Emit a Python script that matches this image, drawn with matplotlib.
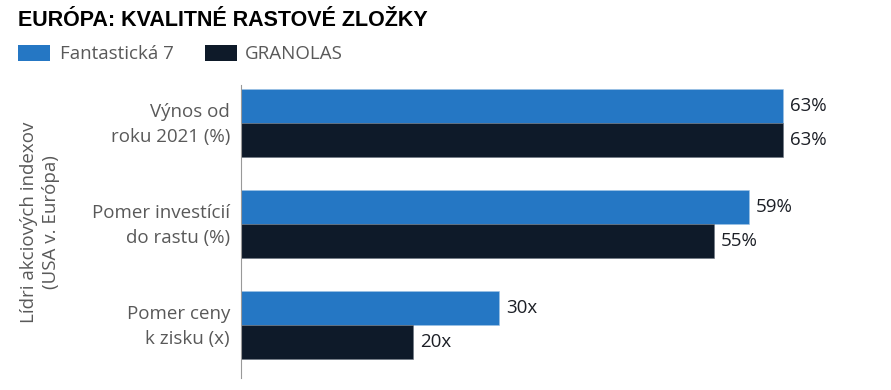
import matplotlib
matplotlib.use("Agg")
import matplotlib.pyplot as plt
import matplotlib.transforms as mtransforms
from matplotlib.patches import Rectangle
import numpy as np

categories = ["Výnos od\nroku 2021 (%)", "Pomer investícií\ndo rastu (%)", "Pomer ceny\nk zisku (x)"]
fantastic7 = [63, 59, 30]
granolas = [63, 55, 20]
units = ["%", "%", "x"]
series_names = ["Fantastická 7", "GRANOLAS"]
title = "EURÓPA: KVALITNÉ RASTOVÉ ZLOŽKY"
ylabel = "Lídri akciových indexov\n(USA v. Európa)"

BLUE = "#2577C4"
DARK = "#0E1A29"
GRAY = "#595959"
BODY_FONT = ["Open Sans", "DejaVu Sans"]
FS = 13.5

W, H = 891, 390
fig = plt.figure(figsize=(W / 100, H / 100), dpi=100)

ax_left = 241 / W
ax_right = 870 / W
ax_top = 1 - 85 / H
ax_bottom = 1 - 378 / H
ax = fig.add_axes([ax_left, ax_bottom, ax_right - ax_left, ax_top - ax_bottom])

px_per_unit = (783 - 241) / 63.0
ax.set_xlim(0, (870 - 241) / px_per_unit)

y = np.arange(len(categories))
bh = 34 / 101
ax.barh(y - bh / 2, fantastic7, height=bh, color=BLUE, edgecolor="#9ec3e6", linewidth=0.4)
ax.barh(y + bh / 2, granolas, height=bh, color=DARK, edgecolor="#6b7480", linewidth=0.4)

top_units = 38 / 101
span = 293 / 101
ax.set_ylim(-top_units + span, -top_units)

for i in range(len(categories)):
    ax.text(fantastic7[i] + 7 / px_per_unit, y[i] - bh / 2, f"{fantastic7[i]}{units[i]}",
            va="center", ha="left", fontsize=FS, color="#1c1f26", family=BODY_FONT)
    ax.text(granolas[i] + 7 / px_per_unit, y[i] + bh / 2, f"{granolas[i]}{units[i]}",
            va="center", ha="left", fontsize=FS, color="#1c1f26", family=BODY_FONT)

ax.set_yticks(y)
ax.set_yticklabels(categories, fontsize=FS, color=GRAY, family=BODY_FONT, linespacing=1.5)
ax.tick_params(axis="y", length=0, pad=8)
shift = mtransforms.ScaledTranslation(0, 4 / 100, fig.dpi_scale_trans)
for lab in ax.get_yticklabels():
    lab.set_transform(lab.get_transform() + shift)
ax.set_xticks([])
for s in ["top", "right", "bottom"]:
    ax.spines[s].set_visible(False)
ax.spines["left"].set_color("#999999")
ax.spines["left"].set_linewidth(0.8)

fig.text(40 / W, 1 - 222 / H, ylabel, rotation=90, ha="center", va="center",
         fontsize=FS, color=GRAY, family=BODY_FONT, linespacing=1.3)

fig.text(18 / W, 1 - 20 / H, title, ha="left", va="center", fontsize=15.5,
         fontweight="bold", color="black", family=["Liberation Sans", "DejaVu Sans"])

# legend
fig.patches.append(Rectangle((18 / W, 1 - 61 / H), 32 / W, 16 / H, transform=fig.transFigure,
                             facecolor=BLUE, edgecolor="none"))
fig.text(60 / W, 1 - 54 / H, series_names[0], ha="left", va="center", fontsize=FS,
         color=GRAY, family=BODY_FONT)
fig.patches.append(Rectangle((205 / W, 1 - 61 / H), 32 / W, 16 / H, transform=fig.transFigure,
                             facecolor=DARK, edgecolor="none"))
fig.text(245 / W, 1 - 54 / H, series_names[1], ha="left", va="center", fontsize=FS,
         color=GRAY, family=BODY_FONT)

fig.savefig("out.png", dpi=100)
